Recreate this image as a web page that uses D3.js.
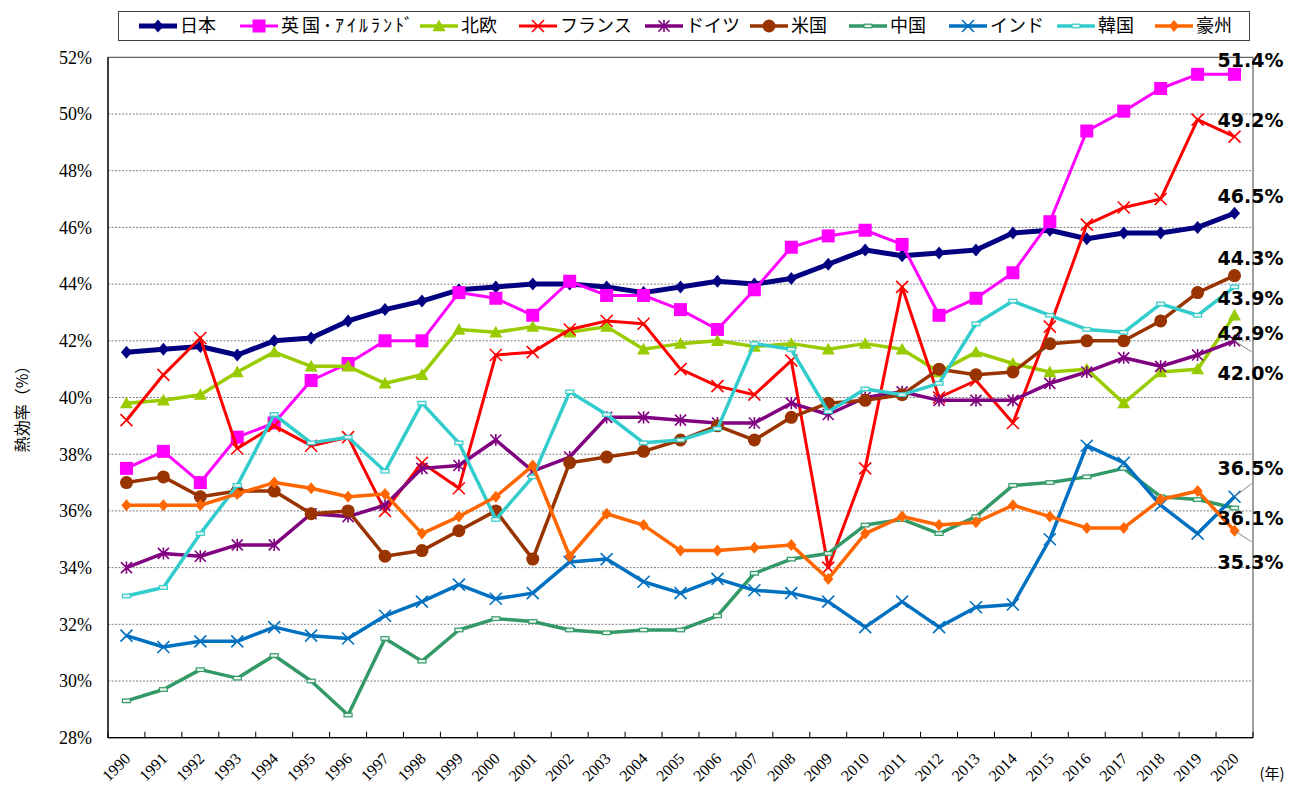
<!DOCTYPE html>
<html><head><meta charset="utf-8">
<script src="https://cdn.jsdelivr.net/npm/d3@7"></script>
<style>body{margin:0;background:#fff} svg{display:block}</style>
</head><body><svg id="c" width="1289" height="787"></svg>
<script>
// ---------- data ----------
const years = ["1990","1991","1992","1993","1994","1995","1996","1997","1998","1999","2000","2001","2002","2003","2004","2005","2006","2007","2008","2009","2010","2011","2012","2013","2014","2015","2016","2017","2018","2019","2020"];
const seriesNames = ["日本","英国･ｱｲﾙﾗﾝﾄﾞ","北欧","フランス","ドイツ","米国","中国","インド","韓国","豪州"];
const japan     = [41.6,41.7,41.8,41.5,42.0,42.1,42.7,43.1,43.4,43.8,43.9,44.0,44.0,43.9,43.7,43.9,44.1,44.0,44.2,44.7,45.2,45.0,45.1,45.2,45.8,45.9,45.6,45.8,45.8,46.0,46.5];
const uk        = [37.5,38.1,37.0,38.6,39.1,40.6,41.2,42.0,42.0,43.7,43.5,42.9,44.1,43.6,43.6,43.1,42.4,43.8,45.3,45.7,45.9,45.4,42.9,43.5,44.4,46.2,49.4,50.1,50.9,51.4,51.4];
const nordic    = [39.8,39.9,40.1,40.9,41.6,41.1,41.1,40.5,40.8,42.4,42.3,42.5,42.3,42.5,41.7,41.9,42.0,41.8,41.9,41.7,41.9,41.7,40.9,41.6,41.2,40.9,41.0,39.8,40.9,41.0,42.9];
const france    = [39.2,40.8,42.1,38.2,39.0,38.3,38.6,36.0,37.7,36.8,41.5,41.6,42.4,42.7,42.6,41.0,40.4,40.1,41.3,34.0,37.5,43.9,40.0,40.6,39.1,42.5,46.1,46.7,47.0,49.8,49.2];
const germany   = [34.0,34.5,34.4,34.8,34.8,35.9,35.8,36.2,37.5,37.6,38.5,37.4,37.9,39.3,39.3,39.2,39.1,39.1,39.8,39.4,40.0,40.2,39.9,39.9,39.9,40.5,40.9,41.4,41.1,41.5,42.0];
const usa       = [37.0,37.2,36.5,36.7,36.7,35.9,36.0,34.4,34.6,35.3,36.0,34.3,37.7,37.9,38.1,38.5,39.0,38.5,39.3,39.8,39.9,40.1,41.0,40.8,40.9,41.9,42.0,42.0,42.7,43.7,44.3];
const china     = [29.3,29.7,30.4,30.1,30.9,30.0,28.8,31.5,30.7,31.8,32.2,32.1,31.8,31.7,31.8,31.8,32.3,33.8,34.3,34.5,35.5,35.7,35.2,35.8,36.9,37.0,37.2,37.5,36.5,36.4,36.1];
const india     = [31.6,31.2,31.4,31.4,31.9,31.6,31.5,32.3,32.8,33.4,32.9,33.1,34.2,34.3,33.5,33.1,33.6,33.2,33.1,32.8,31.9,32.8,31.9,32.6,32.7,35.0,38.3,37.7,36.2,35.2,36.5];
const korea     = [33.0,33.3,35.2,36.9,39.4,38.4,38.6,37.4,39.8,38.4,35.7,37.2,40.2,39.4,38.4,38.5,38.9,41.9,41.7,39.5,40.3,40.1,40.5,42.6,43.4,42.9,42.4,42.3,43.3,42.9,43.9];
const australia = [36.2,36.2,36.2,36.6,37.0,36.8,36.5,36.6,35.2,35.8,36.5,37.6,34.4,35.9,35.5,34.6,34.6,34.7,34.8,33.6,35.2,35.8,35.5,35.6,36.2,35.8,35.4,35.4,36.4,36.7,35.3];
const endLabels = ["46.5%","51.4%","42.9%","49.2%","42.0%","44.3%","36.1%","36.5%","43.9%","35.3%"];
const yTicks = [28,30,32,34,36,38,40,42,44,46,48,50,52];
const yTitle = "熱効率（%）";
const xUnit = "(年)";

// ---------- styles / layout ----------
const styles = [
  {color:"#000080", w:5,   marker:"diamond", s:6.5},
  {color:"#FF00FF", w:3,   marker:"square",  s:6.5},
  {color:"#99CC00", w:3.5, marker:"triangle",s:6.5},
  {color:"#FF0000", w:3,   marker:"x",       s:6},
  {color:"#800080", w:3.5, marker:"star",    s:5.5},
  {color:"#993300", w:3.5, marker:"circle",  s:6.5},
  {color:"#339966", w:3.5, marker:"dash",    s:4},
  {color:"#0070C0", w:3.5, marker:"x",       s:6},
  {color:"#33CCCC", w:3.5, marker:"dash",    s:4},
  {color:"#FF6600", w:3.5, marker:"diamond", s:6}
];
const labelDy = [-17,-14,17.5,-17,32,-17,10,-29,11,31.5];
const leader  = [0,0,0,0,11,0,0,-13,0,11];
const legendStarts = [139,240,420,519,645,750,849,949,1057,1155];
const legendTextLen = [0,132,0,0,0,0,0,0,0,0];

const allValues = [japan,uk,nordic,france,germany,usa,china,india,korea,australia];
const series = seriesNames.map((n,i)=>({name:n, values:allValues[i], label:endLabels[i], ...styles[i], dy:labelDy[i], lead:leader[i]}));

const svg = d3.select("#c");
const L=108, R=1253, T=57.3, B=737.7;
const x = d3.scaleBand().domain(years).range([L,R]).padding(0);
const y = d3.scaleLinear().domain([28,52]).range([B,T]);
const cx = d => x(d)+x.bandwidth()/2;

// gridlines
svg.append("g").selectAll("line").data(yTicks.filter(t=>t>28 && t<52)).join("line")
  .attr("x1",L).attr("x2",R).attr("y1",d=>y(d)).attr("y2",d=>y(d))
  .attr("stroke","#808080").attr("stroke-width",1).attr("stroke-dasharray","2,1.5");

// plot border
svg.append("rect").attr("x",L).attr("y",T).attr("width",R-L).attr("height",B-T)
  .attr("fill","none").attr("stroke","#404040").attr("stroke-width",1);
svg.append("line").attr("x1",L).attr("x2",L).attr("y1",T).attr("y2",B).attr("stroke","#000").attr("stroke-width",1.2);
svg.append("line").attr("x1",L).attr("x2",R).attr("y1",B).attr("y2",B).attr("stroke","#000").attr("stroke-width",1.2);

// x ticks at band boundaries (inside)
const tickPos = years.map(d=>x(d)).concat([R]);
svg.append("g").selectAll("line").data(tickPos).join("line")
  .attr("x1",d=>d).attr("x2",d=>d).attr("y1",B).attr("y2",B-6)
  .attr("stroke","#000").attr("stroke-width",1);

// y labels
svg.append("g").selectAll("text").data(yTicks).join("text")
  .attr("x",92).attr("y",d=>y(d)).attr("dy","0.35em").attr("text-anchor","end")
  .attr("font-family","'Liberation Serif','Times New Roman',serif").attr("font-size",18)
  .text(d=>d+"%");

// x labels
svg.append("g").selectAll("text").data(years).join("text")
  .attr("transform",d=>`translate(${cx(d)+5},${B+22}) rotate(-45)`)
  .attr("text-anchor","end")
  .attr("font-family","'Liberation Serif','Times New Roman',serif").attr("font-size",16)
  .text(d=>d);

svg.append("text").attr("x",1272).attr("y",779).attr("text-anchor","middle")
  .attr("font-family","'Noto Sans CJK JP',sans-serif").attr("font-size",15).text(xUnit);

svg.append("text").attr("transform","translate(22,405) rotate(-90)").attr("text-anchor","middle")
  .attr("dy","0.35em").attr("font-family","'Noto Sans CJK JP',sans-serif").attr("font-size",16).text(yTitle);

// marker function
function drawMarker(g, s, px, py){
  const c=s.color, r=s.s;
  if(s.marker==="diamond"){
    g.append("path").attr("d",`M${px},${py-r}L${px+r*0.85},${py}L${px},${py+r}L${px-r*0.85},${py}Z`).attr("fill",c);
  } else if(s.marker==="square"){
    g.append("rect").attr("x",px-r).attr("y",py-r).attr("width",2*r).attr("height",2*r).attr("fill",c);
  } else if(s.marker==="triangle"){
    g.append("path").attr("d",`M${px},${py-r}L${px+r},${py+r*0.8}L${px-r},${py+r*0.8}Z`).attr("fill",c);
  } else if(s.marker==="x"){
    g.append("path").attr("d",`M${px-r},${py-r}L${px+r},${py+r}M${px-r},${py+r}L${px+r},${py-r}`).attr("stroke",c).attr("stroke-width",1.6).attr("fill","none");
  } else if(s.marker==="star"){
    g.append("path").attr("d",`M${px-r},${py-r}L${px+r},${py+r}M${px-r},${py+r}L${px+r},${py-r}M${px},${py-r*1.1}L${px},${py+r*1.1}`).attr("stroke",c).attr("stroke-width",1.6).attr("fill","none");
  } else if(s.marker==="circle"){
    g.append("circle").attr("cx",px).attr("cy",py).attr("r",r).attr("fill",c);
  } else if(s.marker==="dash"){
    g.append("rect").attr("x",px-r).attr("y",py-1.8).attr("width",2*r).attr("height",3.6).attr("fill","#e8f4f0").attr("stroke",c).attr("stroke-width",1.2);
  }
}

// series
const line = d3.line().x((d,i)=>cx(years[i])).y(d=>y(d));
series.forEach(s=>{
  const g = svg.append("g");
  g.append("path").attr("d",line(s.values)).attr("fill","none").attr("stroke",s.color)
    .attr("stroke-width",s.w).attr("stroke-linejoin","round");
  s.values.forEach((v,i)=>drawMarker(g,s,cx(years[i]),y(v)));
});

// end labels
series.forEach(s=>{
  const px = cx(years[years.length-1]), py = y(s.values[s.values.length-1]);
  if(s.lead){
    svg.append("line").attr("x1",px).attr("y1",py).attr("x2",px+17).attr("y2",py+s.lead)
      .attr("stroke","#808080").attr("stroke-width",1);
  }
  svg.append("text").attr("x",px-17).attr("y",py+s.dy).attr("dy","0.36em")
    .attr("font-family","'DejaVu Sans',Verdana,sans-serif").attr("font-size",19).attr("font-weight","bold")
    .attr("fill","#000").text(s.label);
});

// legend
const lg = svg.append("g");
lg.append("rect").attr("x",118.5).attr("y",11.5).attr("width",1131).attr("height",29)
  .attr("fill","#fff").attr("stroke","#404040").attr("stroke-width",1);
series.forEach((s,i)=>{
  const sx = legendStarts[i], ly=26;
  lg.append("line").attr("x1",sx).attr("x2",sx+38).attr("y1",ly).attr("y2",ly).attr("stroke",s.color).attr("stroke-width",s.w);
  drawMarker(lg,s,sx+19,ly);
  const t = lg.append("text").attr("x",sx+41).attr("y",ly).attr("dy","0.36em")
    .attr("font-family","'Noto Sans CJK JP',sans-serif").attr("font-size",18).text(s.name);
  if(legendTextLen[i]) t.attr("textLength",legendTextLen[i]).attr("lengthAdjust","spacing");
});
</script></body></html>
